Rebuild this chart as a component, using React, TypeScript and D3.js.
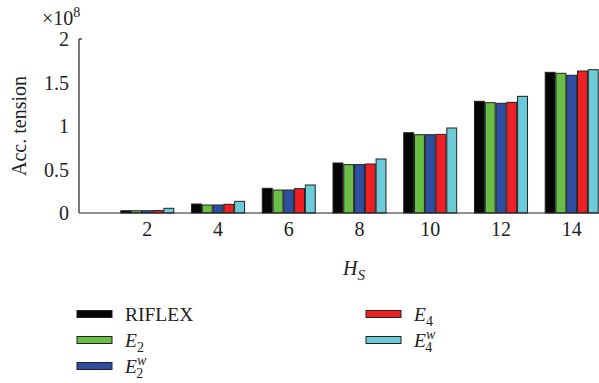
import React from "react";
import * as d3 from "d3";

const categories = [2, 4, 6, 8, 10, 12, 14];
const seriesNames = ["RIFLEX", "E2", "E2w", "E4", "E4w"];
const riflex = [0.026, 0.103, 0.284, 0.575, 0.923, 1.284, 1.617];
const e2 = [0.026, 0.092, 0.264, 0.556, 0.9, 1.268, 1.606];
const e2w = [0.026, 0.092, 0.264, 0.556, 0.9, 1.261, 1.583];
const e4 = [0.028, 0.1, 0.28, 0.563, 0.904, 1.272, 1.632];
const e4w = [0.054, 0.134, 0.322, 0.621, 0.977, 1.341, 1.647];
const yTicks = [0, 0.5, 1, 1.5, 2];
const yTickLabels = ["0", "0.5", "1", "1.5", "2"];
const colors = ["#050505", "#6abd45", "#2e4fa0", "#ee2024", "#6ccbd8"];

const allSeries = [riflex, e2, e2w, e4, e4w];

const FONT = "'Liberation Serif', 'DejaVu Serif', serif";

function LegendLabel({ name }: { name: string }) {
  if (name === "RIFLEX") return <tspan>RIFLEX</tspan>;
  const sub = name.charAt(1);
  const w = name.endsWith("w");
  return (
    <>
      <tspan fontStyle="italic">E</tspan>
      {w ? (
        <>
          <tspan fontStyle="italic" fontSize="14" dy="-8">w</tspan>
          <tspan fontSize="14" dx="-10" dy="13">{sub}</tspan>
        </>
      ) : (
        <tspan fontSize="14" dy="5">{sub}</tspan>
      )}
    </>
  );
}

export default function App() {
  const W = 599, H = 383;
  const x = d3.scaleLinear().domain([2, 14]).range([147.3, 571.7]);
  const y = d3.scaleLinear().domain([0, 2]).range([213, 39]);
  const inner = d3.scaleBand<number>().domain(d3.range(5)).range([-26.5, 26.5]).paddingInner(0.08);
  const axisLeft = 79;
  const legendItems = seriesNames.map((n, i) => ({
    n,
    i,
    col: i < 3 ? 0 : 1,
    row: i < 3 ? i : i - 3,
  }));
  return (
    <svg width={W} height={H} style={{ position: "absolute", left: 0, top: 0, background: "#fff" }} fontFamily={FONT}>
      <rect width={W} height={H} fill="#fff" />
      {allSeries.map((vals, si) =>
        vals.map((v, ci) => (
          <rect
            key={`${si}-${ci}`}
            x={x(categories[ci]) + (inner(si) as number)}
            y={y(v)}
            width={inner.bandwidth()}
            height={y(0) - y(v)}
            fill={colors[si]}
            stroke="#222"
            strokeWidth={1}
          />
        ))
      )}
      <line x1={axisLeft} x2={W} y1={y(0)} y2={y(0)} stroke="#222" strokeWidth={1.2} />
      <line x1={axisLeft} x2={axisLeft} y1={y(0)} y2={y(2)} stroke="#222" strokeWidth={1.2} />
      <line x1={axisLeft} x2={axisLeft + 3} y1={y(2)} y2={y(2)} stroke="#222" strokeWidth={1.2} />
      {yTicks.map((t, i) => (
        <text key={t} x={69} y={y(t)} dy="0.35em" textAnchor="end" fontSize={20} fill="#222">
          {yTickLabels[i]}
        </text>
      ))}
      {categories.map((c) => (
        <text key={c} x={x(c)} y={236} textAnchor="middle" fontSize={20} fill="#222">
          {c}
        </text>
      ))}
      <text x={42} y={25} fontSize={20} fill="#222">
        ×10<tspan fontSize={14} dy={-8}>8</tspan>
      </text>
      <text transform="translate(26,126) rotate(-90)" textAnchor="middle" fontSize={20} fill="#222">
        Acc. tension
      </text>
      <text x={343} y={275} fontSize={20} fill="#222">
        <tspan fontStyle="italic">H</tspan>
        <tspan fontStyle="italic" fontSize={15} dy={5}>S</tspan>
      </text>
      {legendItems.map(({ n, i, col, row }) => {
        const sx = col === 0 ? 77 : 366;
        const cy = 314 + row * 26;
        return (
          <g key={n}>
            <rect x={sx} y={cy - 3.5} width={35} height={7} fill={colors[i]} stroke="#222" strokeWidth={1} />
            <text x={col === 0 ? 125 : 414} y={cy} dy="0.35em" fontSize={19.5} fill="#222">
              <LegendLabel name={n} />
            </text>
          </g>
        );
      })}
    </svg>
  );
}
